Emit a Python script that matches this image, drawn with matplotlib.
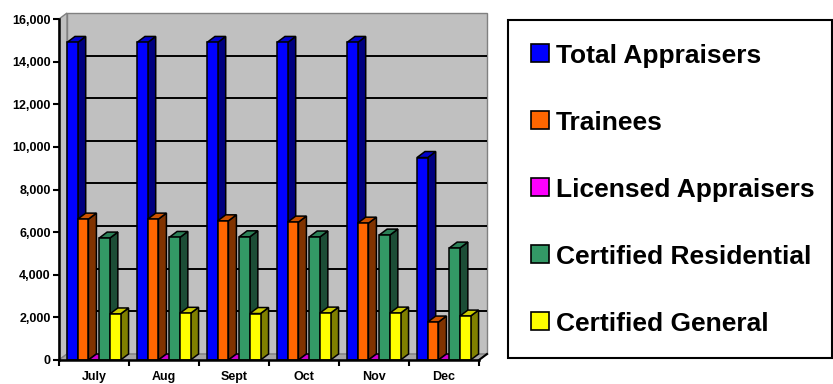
import numpy as np
import matplotlib
matplotlib.use("Agg")
import matplotlib.pyplot as plt
from matplotlib.patches import Polygon, Rectangle

plt.rcParams['font.family'] = ['Liberation Sans', 'DejaVu Sans']
plt.rcParams['font.weight'] = 'bold'

# === prepare data ===
months = ['July', 'Aug', 'Sept', 'Oct', 'Nov', 'Dec']
series_names = ['Total Appraisers', 'Trainees', 'Licensed Appraisers',
                'Certified Residential', 'Certified General']
total_appraisers = [14900, 14900, 14900, 14900, 14900, 9500]
trainees = [6610, 6610, 6530, 6470, 6420, 1780]
licensed_appraisers = [0, 0, 0, 0, 0, 0]
certified_residential = [5720, 5750, 5780, 5770, 5860, 5250]
certified_general = [2160, 2190, 2180, 2200, 2200, 2060]
yticks = [0, 2000, 4000, 6000, 8000, 10000, 12000, 14000, 16000]

series = [total_appraisers, trainees, licensed_appraisers,
          certified_residential, certified_general]
front_cols = ['#0000FF', '#FF6600', '#FF00FF', '#339966', '#FFFF00']
side_cols = ['#000080', '#803300', '#800080', '#1C4D36', '#808000']
top_cols = ['#0000CC', '#CC5200', '#CC00CC', '#2B8057', '#CCCC00']

# === plot data ===
W, H = 833, 384
fig = plt.figure(figsize=(W / 100, H / 100), dpi=100)

# axes placed in pixel terms (front plane of the 3d box)
x0, x1, y0, y1 = 59, 479, 360, 19
ax = fig.add_axes([x0 / W, 1 - y0 / H, (x1 - x0) / W, (y0 - y1) / H])
ymax = 16000
ax.set_xlim(-0.5, len(months) - 0.5)
ax.set_ylim(0, ymax)

# depth offset in data units (8 px right, 6 px up)
dx = 8 / ((x1 - x0) / len(months))
dy = 6 * ymax / (y0 - y1)

xl, xr = -0.5, len(months) - 0.5
wall_kw = dict(clip_on=False, linewidth=1.0)
# back wall
ax.add_patch(Polygon([(xl + dx, dy), (xr + dx, dy), (xr + dx, ymax + dy), (xl + dx, ymax + dy)],
                     closed=True, facecolor='#C0C0C0', edgecolor='#808080', zorder=0, **wall_kw))
# left wall
ax.add_patch(Polygon([(xl, 0), (xl + dx, dy), (xl + dx, ymax + dy), (xl, ymax)],
                     closed=True, facecolor='#C0C0C0', edgecolor='#808080', zorder=0, **wall_kw))
# floor
ax.add_patch(Polygon([(xl, 0), (xr, 0), (xr + dx, dy), (xl + dx, dy)],
                     closed=True, facecolor='#A6A6A6', edgecolor='#808080', zorder=0.5, **wall_kw))
# gridlines on the back wall
for v in yticks[1:-1]:
    ax.plot([xl + dx, xr + dx], [v + dy, v + dy], color='black', lw=1.4,
            zorder=0.6, clip_on=False, solid_capstyle='butt')

# bars
x = np.arange(len(months))
bw = 0.153
start = -0.5 + dx
z = 2
for i, vals in enumerate(series):
    pos = x + start + i * bw
    bars = ax.bar(pos, vals, width=bw, align='edge', color=front_cols[i],
                  edgecolor='black', linewidth=1.1, zorder=z + 0.5, label=series_names[i])
    for b in bars:
        bx, by = b.get_x(), b.get_height()
        bx2 = bx + b.get_width()
        side = Polygon([(bx2, 0), (bx2 + dx, dy), (bx2 + dx, by + dy), (bx2, by)], closed=True,
                       facecolor=side_cols[i], edgecolor='black', lw=1.1, zorder=z + 0.2,
                       clip_on=False)
        top = Polygon([(bx, by), (bx2, by), (bx2 + dx, by + dy), (bx + dx, by + dy)], closed=True,
                      facecolor=top_cols[i], edgecolor='black', lw=1.1, zorder=z + 0.3,
                      clip_on=False)
        ax.add_patch(side)
        ax.add_patch(top)
    z += 1

# floor right slant edge
ax.plot([xr, xr + dx], [0, dy], color='black', lw=1.5, clip_on=False, zorder=10)

# axes styling
for s in ['top', 'right']:
    ax.spines[s].set_visible(False)
for s in ['left', 'bottom']:
    ax.spines[s].set_linewidth(1.8)
    ax.spines[s].set_zorder(10)
ax.set_facecolor('none')
ax.set_yticks(yticks)
ax.set_yticklabels([f'{v:,}' for v in yticks])
ax.set_xticks(np.arange(len(months) + 1) - 0.5)
ax.set_xticklabels([])
ax.set_xticks(x, minor=True)
ax.set_xticklabels(months, minor=True)
ax.tick_params(axis='y', which='major', length=4, width=1.5, pad=2, labelsize=9)
ax.tick_params(axis='x', which='major', length=4, width=1.5)
ax.tick_params(axis='x', which='minor', length=0, pad=8, labelsize=9)

# legend box drawn in pixel positions
def fx(px):
    return px / W

def fy(py):
    return 1 - py / H

fig.add_artist(Rectangle((fx(508), fy(358)), fx(832) - fx(508), fy(20) - fy(358),
                         transform=fig.transFigure, facecolor='white', edgecolor='black',
                         linewidth=1.5))
for i, name in enumerate(series_names):
    base = 63 + i * 67
    fig.add_artist(Rectangle((fx(531), fy(base - 1)), 18 / W, 18 / H, transform=fig.transFigure,
                             facecolor=front_cols[i], edgecolor='black', linewidth=1.2))
    fig.text(fx(556), fy(base), name, fontsize=19, fontweight='bold', va='baseline', ha='left')

plt.savefig('out.png', dpi=100)
